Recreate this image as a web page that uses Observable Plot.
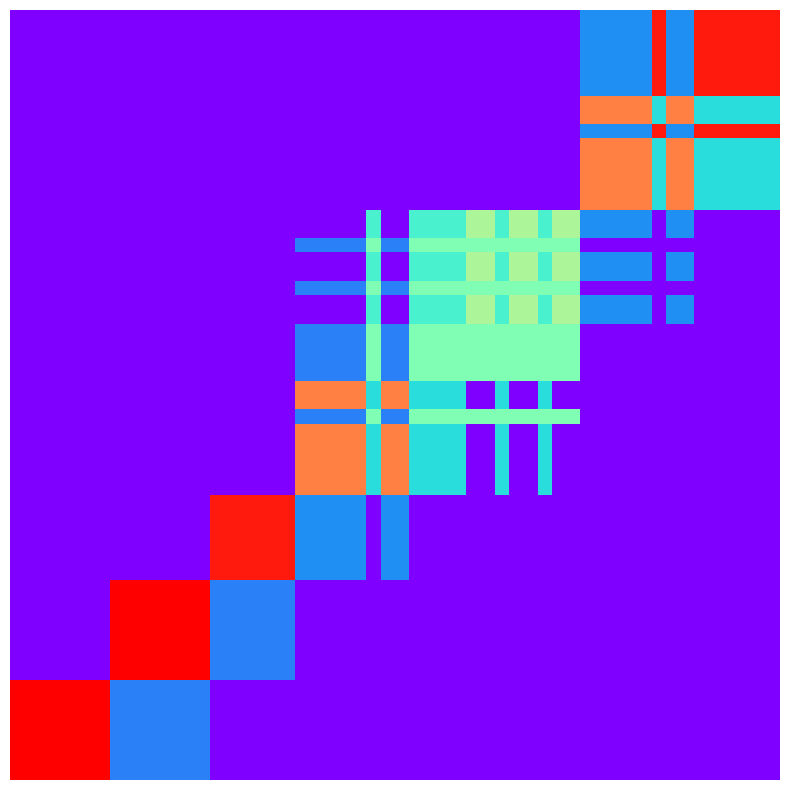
<!DOCTYPE html>
<html>
<head>
<meta charset="utf-8">
<script src="https://cdn.jsdelivr.net/npm/d3@7"></script>
<script src="https://cdn.jsdelivr.net/npm/@observablehq/plot@0.6"></script>
<style>
  html, body { margin: 0; padding: 0; background: #fff; }
</style>
</head>
<body>
<div id="chart"></div>
<script>
// Block sizes (number of unit cells per block), same for rows and columns
const blockSizes = [7, 7, 6, 5, 1, 2, 4, 2, 1, 2, 1, 2, 5, 1, 2, 6];

// Block values, rows listed from bottom (row 0) to top (row 15)
const row0  = [1, 0.167, 0, 0, 0, 0, 0, 0, 0, 0, 0, 0, 0, 0, 0, 0];
const row1  = [0, 1, 0.167, 0, 0, 0, 0, 0, 0, 0, 0, 0, 0, 0, 0, 0];
const row2  = [0, 0, 0.967, 0.19, 0, 0.19, 0, 0, 0, 0, 0, 0, 0, 0, 0, 0];
const row3  = [0, 0, 0, 0.833, 0.333, 0.833, 0.333, 0, 0.333, 0, 0.333, 0, 0, 0, 0, 0];
const row4  = [0, 0, 0, 0.167, 0.5, 0.167, 0.5, 0.5, 0.5, 0.5, 0.5, 0.5, 0, 0, 0, 0];
const row5  = [0, 0, 0, 0.833, 0.333, 0.833, 0.333, 0, 0.333, 0, 0.333, 0, 0, 0, 0, 0];
const row6  = [0, 0, 0, 0.167, 0.5, 0.167, 0.5, 0.5, 0.5, 0.5, 0.5, 0.5, 0, 0, 0, 0];
const row7  = [0, 0, 0, 0, 0.395, 0, 0.395, 0.59, 0.395, 0.59, 0.395, 0.59, 0.19, 0, 0.19, 0];
const row8  = [0, 0, 0, 0.167, 0.5, 0.167, 0.5, 0.5, 0.5, 0.5, 0.5, 0.5, 0, 0, 0, 0];
const row9  = [0, 0, 0, 0, 0.395, 0, 0.395, 0.59, 0.395, 0.59, 0.395, 0.59, 0.19, 0, 0.19, 0];
const row10 = [0, 0, 0, 0.167, 0.5, 0.167, 0.5, 0.5, 0.5, 0.5, 0.5, 0.5, 0, 0, 0, 0];
const row11 = [0, 0, 0, 0, 0.395, 0, 0.395, 0.59, 0.395, 0.59, 0.395, 0.59, 0.19, 0, 0.19, 0];
const row12 = [0, 0, 0, 0, 0, 0, 0, 0, 0, 0, 0, 0, 0.833, 0.333, 0.833, 0.333];
const row13 = [0, 0, 0, 0, 0, 0, 0, 0, 0, 0, 0, 0, 0.19, 0.967, 0.19, 0.967];
const row14 = [0, 0, 0, 0, 0, 0, 0, 0, 0, 0, 0, 0, 0.833, 0.333, 0.833, 0.333];
const row15 = [0, 0, 0, 0, 0, 0, 0, 0, 0, 0, 0, 0, 0.19, 0.967, 0.19, 0.967];

const blockRows = [row0, row1, row2, row3, row4, row5, row6, row7,
                   row8, row9, row10, row11, row12, row13, row14, row15];

// Cumulative boundaries of the blocks
const edges = [0];
blockSizes.forEach(s => edges.push(edges[edges.length - 1] + s));
const n = edges[edges.length - 1];

// Table of blocks for the rect mark
const blocks = [];
blockRows.forEach((vals, r) => {
  vals.forEach((v, c) => {
    blocks.push({x1: edges[c], x2: edges[c + 1], y1: edges[r], y2: edges[r + 1], value: v});
  });
});

// matplotlib-style "rainbow" colormap
function rainbow(t) {
  const clamp = v => Math.max(0, Math.min(1, v));
  const r = clamp(Math.abs(2 * t - 0.5));
  const g = clamp(Math.sin(Math.PI * t));
  const b = clamp(Math.cos(Math.PI * t / 2));
  return `rgb(${Math.round(r * 255)},${Math.round(g * 255)},${Math.round(b * 255)})`;
}

const chart = Plot.plot({
  width: 790,
  height: 790,
  marginTop: 10,
  marginBottom: 10,
  marginLeft: 10,
  marginRight: 10,
  x: {domain: [0, n], axis: null},
  y: {domain: [0, n], axis: null},
  color: {type: "linear", domain: [0, 1], interpolate: rainbow},
  marks: [
    Plot.rect(blocks, {
      x1: "x1", x2: "x2", y1: "y1", y2: "y2",
      fill: "value",
      shapeRendering: "crispEdges"
    })
  ]
});
document.getElementById("chart").appendChild(chart);
</script>
</body>
</html>
